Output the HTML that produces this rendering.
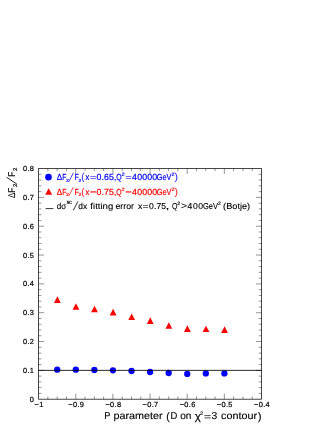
<!DOCTYPE html>
<html><head><meta charset="utf-8"><title>plot</title>
<style>
html,body{margin:0;padding:0;background:#fff;}
svg{display:block;will-change:transform;}
text{font-family:"Liberation Sans",sans-serif;fill:#000;text-rendering:geometricPrecision;font-kerning:none;}
.b{color:#00f;fill:#00f;stroke:#00f}.r{color:#f00;fill:#f00;stroke:#f00}.k{color:#000;fill:#000;stroke:#000}
text.b,text.r,text.k{stroke:#fff;stroke-width:0.04}
text.t{stroke:#fff;stroke-width:0.04}
text.h{stroke:currentColor;stroke-width:0.3}
text.h2{stroke:currentColor;stroke-width:0.15}
text.h3{stroke:currentColor;stroke-width:0.12}
text.b.h3,text.r.h3{stroke-width:0.2}
</style></head><body>
<svg width="332" height="430" viewBox="0 0 332 430">
<rect x="0" y="0" width="332" height="430" fill="#fff"/>
<path d="M47.89 399.2v-2.8M47.89 168.4v2.8M57.18 399.2v-2.8M57.18 168.4v2.8M66.46 399.2v-2.8M66.46 168.4v2.8M75.75 399.2v-5.5M75.75 168.4v5.5M85.04 399.2v-2.8M85.04 168.4v2.8M94.33 399.2v-2.8M94.33 168.4v2.8M103.61 399.2v-2.8M103.61 168.4v2.8M112.90 399.2v-5.5M112.90 168.4v5.5M122.19 399.2v-2.8M122.19 168.4v2.8M131.47 399.2v-2.8M131.47 168.4v2.8M140.76 399.2v-2.8M140.76 168.4v2.8M150.05 399.2v-5.5M150.05 168.4v5.5M159.34 399.2v-2.8M159.34 168.4v2.8M168.63 399.2v-2.8M168.63 168.4v2.8M177.91 399.2v-2.8M177.91 168.4v2.8M187.20 399.2v-5.5M187.20 168.4v5.5M196.49 399.2v-2.8M196.49 168.4v2.8M205.77 399.2v-2.8M205.77 168.4v2.8M215.06 399.2v-2.8M215.06 168.4v2.8M224.35 399.2v-5.5M224.35 168.4v5.5M233.64 399.2v-2.8M233.64 168.4v2.8M242.93 399.2v-2.8M242.93 168.4v2.8M252.21 399.2v-2.8M252.21 168.4v2.8M38.6 393.43h2.8M261.5 393.43h-2.8M38.6 387.67h2.8M261.5 387.67h-2.8M38.6 381.90h2.8M261.5 381.90h-2.8M38.6 376.14h2.8M261.5 376.14h-2.8M38.6 370.37h5.5M261.5 370.37h-5.5M38.6 364.60h2.8M261.5 364.60h-2.8M38.6 358.84h2.8M261.5 358.84h-2.8M38.6 353.07h2.8M261.5 353.07h-2.8M38.6 347.31h2.8M261.5 347.31h-2.8M38.6 341.54h5.5M261.5 341.54h-5.5M38.6 335.77h2.8M261.5 335.77h-2.8M38.6 330.01h2.8M261.5 330.01h-2.8M38.6 324.24h2.8M261.5 324.24h-2.8M38.6 318.48h2.8M261.5 318.48h-2.8M38.6 312.71h5.5M261.5 312.71h-5.5M38.6 306.94h2.8M261.5 306.94h-2.8M38.6 301.18h2.8M261.5 301.18h-2.8M38.6 295.41h2.8M261.5 295.41h-2.8M38.6 289.65h2.8M261.5 289.65h-2.8M38.6 283.88h5.5M261.5 283.88h-5.5M38.6 278.11h2.8M261.5 278.11h-2.8M38.6 272.35h2.8M261.5 272.35h-2.8M38.6 266.58h2.8M261.5 266.58h-2.8M38.6 260.82h2.8M261.5 260.82h-2.8M38.6 255.05h5.5M261.5 255.05h-5.5M38.6 249.28h2.8M261.5 249.28h-2.8M38.6 243.52h2.8M261.5 243.52h-2.8M38.6 237.75h2.8M261.5 237.75h-2.8M38.6 231.99h2.8M261.5 231.99h-2.8M38.6 226.22h5.5M261.5 226.22h-5.5M38.6 220.45h2.8M261.5 220.45h-2.8M38.6 214.69h2.8M261.5 214.69h-2.8M38.6 208.92h2.8M261.5 208.92h-2.8M38.6 203.16h2.8M261.5 203.16h-2.8M38.6 197.39h5.5M261.5 197.39h-5.5M38.6 191.62h2.8M261.5 191.62h-2.8M38.6 185.86h2.8M261.5 185.86h-2.8M38.6 180.09h2.8M261.5 180.09h-2.8M38.6 174.33h2.8M261.5 174.33h-2.8" stroke="#000" stroke-width="0.42" fill="none"/>
<rect x="38.6" y="168.4" width="222.9" height="230.79999999999998" fill="none" stroke="#1a1a1a" stroke-width="0.8"/>
<path d="M57.38 296.25L60.78 302.90H53.98Z" fill="#f00"/>
<path d="M75.95 303.25L79.35 309.70H72.55Z" fill="#f00"/>
<path d="M94.53 305.85L97.93 312.30H91.13Z" fill="#f00"/>
<path d="M113.10 308.75L116.50 315.50H109.70Z" fill="#f00"/>
<path d="M131.67 313.45L135.07 319.90H128.27Z" fill="#f00"/>
<path d="M150.25 317.35L153.65 324.00H146.85Z" fill="#f00"/>
<path d="M168.83 322.35L172.23 328.80H165.43Z" fill="#f00"/>
<path d="M187.40 325.35L190.80 331.90H184.00Z" fill="#f00"/>
<path d="M205.98 325.65L209.38 332.10H202.58Z" fill="#f00"/>
<path d="M224.55 326.35L227.95 333.10H221.15Z" fill="#f00"/>
<circle cx="57.23" cy="369.70" r="3.15" fill="#00f"/>
<circle cx="75.80" cy="369.70" r="3.15" fill="#00f"/>
<circle cx="94.38" cy="370.00" r="3.15" fill="#00f"/>
<circle cx="112.95" cy="370.30" r="3.15" fill="#00f"/>
<circle cx="131.53" cy="371.00" r="3.15" fill="#00f"/>
<circle cx="150.10" cy="372.00" r="3.15" fill="#00f"/>
<circle cx="168.68" cy="373.00" r="3.15" fill="#00f"/>
<circle cx="187.25" cy="373.90" r="3.15" fill="#00f"/>
<circle cx="205.83" cy="373.40" r="3.15" fill="#00f"/>
<circle cx="224.40" cy="373.40" r="3.15" fill="#00f"/>
<path d="M38.6 370.37H261.5" stroke="#000" stroke-width="0.85" fill="none"/>
<text x="34.3" y="401.75" font-size="7.4" text-anchor="end" letter-spacing="0.35" stroke="#000" stroke-width="0.2">0</text>
<text x="34.3" y="372.92" font-size="7.4" text-anchor="end" letter-spacing="0.35" stroke="#000" stroke-width="0.2">0.1</text>
<text x="34.3" y="344.09" font-size="7.4" text-anchor="end" letter-spacing="0.35" stroke="#000" stroke-width="0.2">0.2</text>
<text x="34.3" y="315.26" font-size="7.4" text-anchor="end" letter-spacing="0.35" stroke="#000" stroke-width="0.2">0.3</text>
<text x="34.3" y="286.43" font-size="7.4" text-anchor="end" letter-spacing="0.35" stroke="#000" stroke-width="0.2">0.4</text>
<text x="34.3" y="257.60" font-size="7.4" text-anchor="end" letter-spacing="0.35" stroke="#000" stroke-width="0.2">0.5</text>
<text x="34.3" y="228.77" font-size="7.4" text-anchor="end" letter-spacing="0.35" stroke="#000" stroke-width="0.2">0.6</text>
<text x="34.3" y="199.94" font-size="7.4" text-anchor="end" letter-spacing="0.35" stroke="#000" stroke-width="0.2">0.7</text>
<text x="34.3" y="171.11" font-size="7.4" text-anchor="end" letter-spacing="0.35" stroke="#000" stroke-width="0.2">0.8</text>
<text x="39.10" y="407.1" font-size="7.4" text-anchor="middle" letter-spacing="0.35" stroke="#000" stroke-width="0.2">−1</text>
<text x="76.25" y="407.1" font-size="7.4" text-anchor="middle" letter-spacing="0.35" stroke="#000" stroke-width="0.2">−0.9</text>
<text x="113.40" y="407.1" font-size="7.4" text-anchor="middle" letter-spacing="0.35" stroke="#000" stroke-width="0.2">−0.8</text>
<text x="150.55" y="407.1" font-size="7.4" text-anchor="middle" letter-spacing="0.35" stroke="#000" stroke-width="0.2">−0.7</text>
<text x="187.70" y="407.1" font-size="7.4" text-anchor="middle" letter-spacing="0.35" stroke="#000" stroke-width="0.2">−0.6</text>
<text x="224.85" y="407.1" font-size="7.4" text-anchor="middle" letter-spacing="0.35" stroke="#000" stroke-width="0.2">−0.5</text>
<text x="262.00" y="407.1" font-size="7.4" text-anchor="middle" letter-spacing="0.35" stroke="#000" stroke-width="0.2">−0.4</text>
<text class="k h3" x="104.34" y="419.30" font-size="10" textLength="6.14" lengthAdjust="spacingAndGlyphs" >P</text>
<text class="k h3" x="113.40" y="419.30" font-size="10" textLength="49.17" lengthAdjust="spacingAndGlyphs" >parameter</text>
<text class="k h3" x="166.35" y="419.50" font-size="11" textLength="3.52" lengthAdjust="spacingAndGlyphs" >(</text>
<text class="k h3" x="170.42" y="419.30" font-size="10" textLength="6.83" lengthAdjust="spacingAndGlyphs" >D</text>
<text class="k h3" x="180.17" y="419.30" font-size="10" textLength="11.28" lengthAdjust="spacingAndGlyphs" >on</text>
<text class="k h3" x="194.68" y="419.60" font-size="11" textLength="6.16" lengthAdjust="spacingAndGlyphs" >χ</text>
<text class="k h2" x="200.12" y="415.00" font-size="5" textLength="3.05" lengthAdjust="spacingAndGlyphs" >2</text>
<path class="k" d="M204.40 415.60H210.70M204.40 417.90H210.70" stroke-width="0.7" fill="none"/>
<text class="k h3" x="211.51" y="419.30" font-size="10" textLength="5.75" lengthAdjust="spacingAndGlyphs" >3</text>
<text class="k h3" x="221.14" y="419.30" font-size="10" textLength="35.94" lengthAdjust="spacingAndGlyphs" >contour</text>
<text class="k h3" x="257.83" y="419.50" font-size="11" textLength="3.77" lengthAdjust="spacingAndGlyphs" >)</text>
<g transform="translate(14.6,0) rotate(-90)">
<text class="k h2" x="-198.04" y="0" font-size="9.8" textLength="5.27" lengthAdjust="spacingAndGlyphs">Δ</text>
<text class="k h2" x="-192.79" y="0" font-size="9.8" textLength="5.12" lengthAdjust="spacingAndGlyphs">F</text>
<text class="k h2" x="-186.91" y="2.4" font-size="5.6" textLength="3.42" lengthAdjust="spacingAndGlyphs">2</text>
<text class="k h2" x="-176.79" y="0" font-size="9.8" textLength="5.12" lengthAdjust="spacingAndGlyphs">F</text>
<text class="k h2" x="-170.91" y="2.4" font-size="5.6" textLength="3.42" lengthAdjust="spacingAndGlyphs">2</text>
</g>
<path class="k" d="M16.60 183.90L6.70 177.30" stroke-width="0.85" fill="none"/>
<circle cx="48.5" cy="177.15" r="3.3" fill="#00f"/>
<path d="M48.7 188.3L52.2 194.8H45.2Z" fill="#f00"/>
<path class="k" d="M45.60 208.60L53.40 208.60" stroke-width="0.8" fill="none"/>
<text class="b h3" x="56.66" y="180.40" font-size="8.8" textLength="5.38" lengthAdjust="spacingAndGlyphs" >Δ</text>
<text class="b h3" x="62.15" y="180.40" font-size="8.8" textLength="4.12" lengthAdjust="spacingAndGlyphs" >F</text>
<text class="b h2" x="65.95" y="181.80" font-size="4.6" textLength="2.81" lengthAdjust="spacingAndGlyphs" >2</text>
<path class="b" d="M68.70 181.90L73.40 172.80" stroke-width="0.7" fill="none"/>
<text class="b h3" x="74.53" y="180.40" font-size="8.8" textLength="4.25" lengthAdjust="spacingAndGlyphs" >F</text>
<text class="b h2" x="78.45" y="181.80" font-size="4.6" textLength="2.81" lengthAdjust="spacingAndGlyphs" >2</text>
<text class="b" x="81.19" y="180.40" font-size="10" textLength="3.27" lengthAdjust="spacingAndGlyphs" >(</text>
<text class="b h3" x="85.62" y="180.40" font-size="8.8" textLength="3.77" lengthAdjust="spacingAndGlyphs" >x</text>
<path class="b" d="M90.30 176.50H95.90M90.30 178.50H95.90" stroke-width="0.55" fill="none"/>
<text class="b h3" x="96.46" y="180.40" font-size="8.8" textLength="17.41" lengthAdjust="spacing" >0.65</text>
<text class="b" x="113.31" y="180.40" font-size="8.8" textLength="3.68" lengthAdjust="spacingAndGlyphs" >,</text>
<text class="b h3" x="116.27" y="180.40" font-size="8.8" textLength="5.36" lengthAdjust="spacingAndGlyphs" >Q</text>
<text class="b h2" x="121.41" y="176.20" font-size="4.8" textLength="3.17" lengthAdjust="spacingAndGlyphs" >2</text>
<path class="b" d="M125.70 176.50H131.30M125.70 178.50H131.30" stroke-width="0.55" fill="none"/>
<text class="b h3" x="132.10" y="180.40" font-size="8.8" textLength="25.15" lengthAdjust="spacing" >40000</text>
<text class="b h3" x="156.83" y="180.40" font-size="8.8" textLength="14.60" lengthAdjust="spacingAndGlyphs" >GeV</text>
<text class="b h2" x="171.52" y="176.20" font-size="4.8" textLength="3.05" lengthAdjust="spacingAndGlyphs" >2</text>
<text class="b" x="174.64" y="180.40" font-size="10" textLength="3.52" lengthAdjust="spacingAndGlyphs" >)</text>
<text class="r h3" x="56.66" y="194.70" font-size="8.8" textLength="5.38" lengthAdjust="spacingAndGlyphs" >Δ</text>
<text class="r h3" x="62.15" y="194.70" font-size="8.8" textLength="4.12" lengthAdjust="spacingAndGlyphs" >F</text>
<text class="r h2" x="65.95" y="196.10" font-size="4.6" textLength="2.81" lengthAdjust="spacingAndGlyphs" >2</text>
<path class="r" d="M68.70 196.20L73.40 187.10" stroke-width="0.7" fill="none"/>
<text class="r h3" x="74.53" y="194.70" font-size="8.8" textLength="4.25" lengthAdjust="spacingAndGlyphs" >F</text>
<text class="r h2" x="78.45" y="196.10" font-size="4.6" textLength="2.81" lengthAdjust="spacingAndGlyphs" >2</text>
<text class="r" x="81.19" y="194.70" font-size="10" textLength="3.27" lengthAdjust="spacingAndGlyphs" >(</text>
<text class="r h3" x="85.62" y="194.70" font-size="8.8" textLength="3.77" lengthAdjust="spacingAndGlyphs" >x</text>
<path class="r" d="M90.30 191.90H95.90" stroke-width="1.8" stroke-opacity="0.62" fill="none"/>
<text class="r h3" x="96.46" y="194.70" font-size="8.8" textLength="17.41" lengthAdjust="spacing" >0.75</text>
<text class="r" x="113.31" y="194.70" font-size="8.8" textLength="3.68" lengthAdjust="spacingAndGlyphs" >,</text>
<text class="r h3" x="116.27" y="194.70" font-size="8.8" textLength="5.36" lengthAdjust="spacingAndGlyphs" >Q</text>
<text class="r h2" x="121.41" y="190.50" font-size="4.8" textLength="3.17" lengthAdjust="spacingAndGlyphs" >2</text>
<path class="r" d="M125.70 191.90H131.30" stroke-width="1.8" stroke-opacity="0.62" fill="none"/>
<text class="r h3" x="132.10" y="194.70" font-size="8.8" textLength="25.15" lengthAdjust="spacing" >40000</text>
<text class="r h3" x="156.83" y="194.70" font-size="8.8" textLength="14.60" lengthAdjust="spacingAndGlyphs" >GeV</text>
<text class="r h2" x="171.52" y="190.50" font-size="4.8" textLength="3.05" lengthAdjust="spacingAndGlyphs" >2</text>
<text class="r" x="174.64" y="194.70" font-size="10" textLength="3.52" lengthAdjust="spacingAndGlyphs" >)</text>
<text class="k h3" x="56.76" y="208.80" font-size="8.6" textLength="9.46" lengthAdjust="spacingAndGlyphs" >dσ</text>
<text class="k h2" x="66.66" y="204.30" font-size="4.7" textLength="5.14" lengthAdjust="spacingAndGlyphs" font-weight="bold" >NC</text>
<path class="k" d="M73.30 210.40L77.90 201.40" stroke-width="0.8" fill="none"/>
<text class="k h3" x="78.35" y="208.80" font-size="8.6" textLength="8.84" lengthAdjust="spacingAndGlyphs" >dx</text>
<text class="k h3" x="90.36" y="208.80" font-size="8.6" textLength="22.85" lengthAdjust="spacingAndGlyphs" >fitting</text>
<text class="k h3" x="115.43" y="208.80" font-size="8.6" textLength="18.62" lengthAdjust="spacingAndGlyphs" >error</text>
<text class="k h3" x="138.00" y="208.80" font-size="8.6" textLength="4.39" lengthAdjust="spacingAndGlyphs" >x</text>
<path class="k" d="M142.90 205.50H148.20M142.90 207.50H148.20" stroke-width="0.55" fill="none"/>
<text class="k h3" x="149.06" y="208.80" font-size="8.6" textLength="17.00" lengthAdjust="spacing" >0.75</text>
<text class="k h3" x="165.62" y="208.80" font-size="8.6" textLength="3.96" lengthAdjust="spacingAndGlyphs" >,</text>
<text class="k h3" x="171.97" y="208.80" font-size="8.6" textLength="5.47" lengthAdjust="spacingAndGlyphs" >Q</text>
<text class="k h2" x="177.34" y="204.60" font-size="4.8" textLength="2.93" lengthAdjust="spacingAndGlyphs" >2</text>
<text class="k" x="180.86" y="209.20" font-size="10" textLength="6.37" lengthAdjust="spacingAndGlyphs" >&gt;</text>
<text class="k h3" x="187.50" y="208.80" font-size="8.6" textLength="15.63" lengthAdjust="spacing" >400</text>
<text class="k h3" x="203.02" y="208.80" font-size="8.6" textLength="15.01" lengthAdjust="spacingAndGlyphs" >GeV</text>
<text class="k h2" x="218.05" y="204.60" font-size="4.8" textLength="2.81" lengthAdjust="spacingAndGlyphs" >2</text>
<text class="k h3" x="223.13" y="208.80" font-size="8.6" textLength="27.04" lengthAdjust="spacingAndGlyphs" >(Botje)</text>
</svg></body></html>
